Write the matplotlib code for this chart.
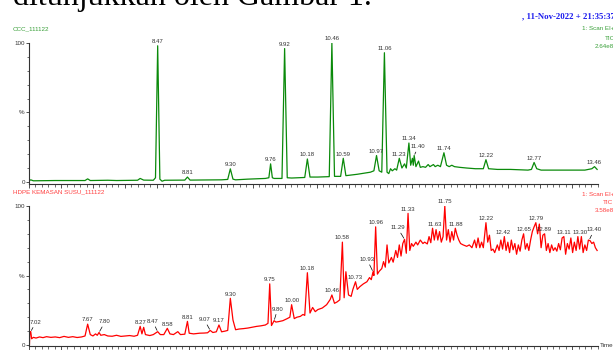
import numpy as np
import matplotlib.pyplot as plt

# Kromatogram TIC: CCC_111122 (atas) dan HDPE KEMASAN SUSU_111122 (bawah)
top_t = [7.00, 7.02, 7.05, 7.30, 7.50, 7.64, 7.67, 7.70, 7.90, 8.00, 8.24, 8.27, 8.31,
         8.42, 8.445, 8.47, 8.495, 8.52, 8.55, 8.78, 8.81, 8.84, 9.00, 9.20, 9.27, 9.30,
         9.33, 9.36, 9.50, 9.70, 9.74, 9.76, 9.78, 9.80, 9.89, 9.92, 9.95, 10.00, 10.15,
         10.18, 10.21, 10.30, 10.43, 10.46, 10.49, 10.56, 10.59, 10.62, 10.75, 10.90,
         10.94, 10.97, 11.00, 11.03, 11.06, 11.09, 11.11, 11.13, 11.15, 11.18, 11.20,
         11.23, 11.26, 11.29, 11.31, 11.34, 11.36, 11.38, 11.39, 11.40, 11.42, 11.45,
         11.47, 11.50, 11.53, 11.56, 11.58, 11.62, 11.64, 11.67, 11.70, 11.74, 11.77,
         11.80, 11.83, 11.86, 11.92, 12.00, 12.10, 12.19, 12.22, 12.25, 12.35, 12.50,
         12.70, 12.74, 12.77, 12.80, 12.85, 13.00, 13.20, 13.35, 13.43, 13.46, 13.49]
top_v = [0.8, 1.5, 0.8, 1.0, 1.0, 1.0, 2.2, 1.0, 1.2, 1.0, 1.2, 2.5, 1.3,
         1.2, 3.0, 98, 2.0, 0.5, 1.2, 1.3, 3.5, 1.3, 1.4, 1.5, 1.8, 9.4,
         2.0, 1.5, 2.0, 2.5, 3.0, 13, 3.0, 2.5, 2.5, 96, 3.0, 2.8, 3.2,
         16.5, 3.5, 3.5, 3.8, 100, 4.0, 4.0, 17, 4.5, 5.5, 7.0,
         8.0, 19, 8.0, 7.0, 93, 7.0, 6.0, 9.5, 8.0, 9.5, 8.5,
         17, 10, 13, 10, 28, 12, 17, 12, 19, 11, 15,
         10.5, 11, 10.5, 12.5, 11, 12.5, 11, 12, 11, 21, 12,
         11, 12, 11, 10.5, 10, 9.5, 9.5, 16, 9.5, 9.0, 9.0,
         8.5, 9.0, 14, 9.5, 8.5, 8.5, 8.5, 8.5, 9.5, 11, 9.0]

bot_t = [7.00, 7.005, 7.01, 7.02, 7.03, 7.05, 7.08, 7.12, 7.16, 7.20, 7.25, 7.30, 7.35,
         7.40, 7.45, 7.50, 7.55, 7.60, 7.64, 7.67, 7.70, 7.73, 7.76, 7.78, 7.80, 7.82,
         7.86, 7.90, 7.95, 8.00, 8.05, 8.10, 8.15, 8.20, 8.24, 8.27, 8.29, 8.31, 8.33,
         8.38, 8.42, 8.47, 8.50, 8.54, 8.58, 8.61, 8.65, 8.70, 8.73, 8.78, 8.81, 8.83,
         8.88, 8.95, 9.00, 9.04, 9.07, 9.10, 9.14, 9.17, 9.20, 9.24, 9.27, 9.30, 9.33,
         9.36, 9.40, 9.45, 9.50, 9.55, 9.60, 9.65, 9.70, 9.73, 9.75, 9.77, 9.80, 9.82,
         9.85, 9.90, 9.95, 9.98, 10.00, 10.03, 10.06, 10.10, 10.13, 10.15, 10.18, 10.21,
         10.24, 10.27, 10.30, 10.35, 10.40, 10.44, 10.46, 10.49, 10.52, 10.55, 10.58,
         10.60, 10.62, 10.65, 10.68, 10.70, 10.73, 10.75, 10.78, 10.82, 10.86, 10.89,
         10.91, 10.93, 10.94, 10.96, 10.98, 11.00, 11.03, 11.05, 11.07, 11.09, 11.11,
         11.14, 11.16, 11.19, 11.21, 11.23, 11.25, 11.27, 11.29, 11.31, 11.33, 11.35,
         11.37, 11.39, 11.42, 11.44, 11.47, 11.50, 11.52, 11.55, 11.57, 11.59, 11.61,
         11.63, 11.65, 11.67, 11.69, 11.71, 11.73, 11.75, 11.77, 11.79, 11.81, 11.83,
         11.85, 11.87, 11.89, 11.91, 11.93, 11.96, 12.00, 12.03, 12.06, 12.09, 12.11,
         12.13, 12.15, 12.17, 12.19, 12.22, 12.24, 12.26, 12.28, 12.30, 12.32, 12.35,
         12.37, 12.39, 12.41, 12.43, 12.45, 12.47, 12.49, 12.51, 12.53, 12.55, 12.57,
         12.59, 12.61, 12.63, 12.65, 12.67, 12.69, 12.71, 12.73, 12.75, 12.77, 12.79,
         12.81, 12.83, 12.85, 12.87, 12.89, 12.91, 12.93, 12.95, 12.97, 12.99, 13.01,
         13.03, 13.05, 13.07, 13.09, 13.11, 13.13, 13.15, 13.17, 13.19, 13.21, 13.23,
         13.25, 13.27, 13.29, 13.31, 13.33, 13.35, 13.37, 13.39, 13.41, 13.43, 13.45,
         13.47, 13.49]
bot_v = [0, 0, 9.6, 9.6, 4.5, 5.5, 5.0, 5.8, 5.3, 6.0, 5.5, 5.8, 5.3,
         6.2, 5.5, 6.0, 5.4, 5.8, 6.5, 15, 7.5, 6.5, 8.0, 7.0, 9.0, 7.0,
         7.5, 6.5, 6.3, 7.0, 6.2, 6.5, 6.8, 6.3, 7.0, 13.4, 8.0, 12.7, 7.5,
         6.8, 7.5, 9.6, 7.5, 7.5, 12, 8.0, 7.5, 9.6, 7.5, 7.8, 17, 8.5,
         8.0, 8.5, 8.6, 8.8, 10.5, 9.0, 9.5, 14.4, 9.5, 10, 10.5, 33.6, 18,
         11, 11.5, 11.8, 12.2, 12.8, 13.4, 13.8, 14.4, 15.6, 44, 14, 17.5, 16.5,
         16.8, 17.5, 19, 20, 29, 19, 20, 20.6, 22, 21.3, 52, 23,
         27, 24, 25.5, 26.6, 29, 32.7, 36, 30, 31, 32.5, 74,
         34, 52.7, 36, 35, 40, 45.5, 40, 42, 44, 45.5, 48.5,
         47, 52.7, 50, 85, 51, 53, 55, 60, 56, 72, 59,
         63, 59.6, 68, 63, 72, 64, 73, 76, 66, 94.7, 68,
         73, 71, 74, 72, 75.5, 73, 74, 72.7, 78, 73.6, 84,
         75.5, 83, 75.5, 81.6, 74, 78, 100, 75.5, 83, 74, 81.6,
         75.5, 84, 79, 75.5, 73, 72, 71, 72, 70, 75.5, 70,
         77, 70, 74, 70, 88, 74, 79, 68, 69, 66.5, 72,
         68, 75.5, 69, 78, 68, 74, 66.5, 75.5, 68.5, 73, 65.3,
         72, 67.5, 75.5, 80, 69, 73, 68, 75.5, 81.6, 85, 88,
         80, 87, 70, 79, 80, 68, 73, 66.5, 72, 68, 70,
         67.5, 73, 68.5, 77, 78, 65.3, 73, 69, 77, 66.5, 74,
         68, 78, 69, 78, 66.5, 72, 68, 75.5, 75, 73, 74,
         70, 68]

top_labels = ['8.47', '8.81', '9.30', '9.76', '9.92', '10.18', '10.46', '10.59', '10.97',
              '11.06', '11.23', '11.34', '11.40', '11.74', '12.22', '12.77', '13.46']
bot_labels = ['7.02', '7.67', '7.80', '8.27', '8.47', '8.58', '8.81', '9.07', '9.17', '9.30',
              '9.75', '9.80', '10.00', '10.18', '10.46', '10.58', '10.73', '10.93', '10.96',
              '11.29', '11.33', '11.63', '11.75', '11.88', '12.22', '12.42', '12.65', '12.79',
              '12.89', '13.11', '13.30', '13.40']

# label yang memakai garis penunjuk (offset dalam point)
top_leaders = {'11.40': (3, 4.5)}
bot_leaders = {'7.02': (3.6, 5), '7.80': (4.3, 6), '8.47': (-3.6, 5.5), '9.07': (-4.3, 6),
               '9.80': (2.5, 6.5), '10.93': (-4.3, 7), '11.29': (-5, 6.5), '13.40': (3.4, 5.5)}

W, H = 613, 350
SANS = 'Liberation Sans'
SERIF = 'Liberation Serif'
GREY = '#333333'


def fx(x):
    return x / W


def fy(y):
    return 1 - y / H


def style_axis(ax, ymin):
    ax.set_xlim(7.0, 13.5)
    ax.set_ylim(ymin, 100)
    ax.patch.set_alpha(0)
    for s in ['top', 'right']:
        ax.spines[s].set_visible(False)
    for s in ['left', 'bottom']:
        ax.spines[s].set_color(GREY)
        ax.spines[s].set_linewidth(0.8)
    ax.set_yticks([0, 50, 100], ['0', '%', '100'])
    ax.set_yticks(np.arange(0, 101, 10), minor=True)
    ax.set_xticks(np.arange(7.0, 13.5, 0.365), [])
    ax.set_xticks(np.arange(7.0, 13.5, 0.073), minor=True)
    ax.tick_params(axis='y', which='major', length=2.5, width=0.6, pad=0.5,
                   labelsize=4.5, colors=GREY)
    ax.tick_params(axis='y', which='minor', length=1.5, width=0.5, colors=GREY)
    ax.tick_params(axis='x', which='major', length=3, width=0.6, colors=GREY)
    ax.tick_params(axis='x', which='minor', length=1.8, width=0.5, colors=GREY)
    for lab in ax.get_yticklabels():
        lab.set_family(SANS)


def label_peaks(ax, t, v, labels, leaders):
    t = np.array(t)
    v = np.array(v)
    for lab in labels:
        pt = float(lab)
        near = np.abs(t - pt) <= 0.0201
        top = v[near].max()
        if lab in leaders:
            dx, dy = leaders[lab]
            ax.annotate(lab, xy=(pt, top), xytext=(dx, dy), textcoords='offset points',
                        ha='center', va='bottom', fontsize=4.3, family=SANS, color=GREY,
                        arrowprops=dict(arrowstyle='-', color='black', lw=0.5,
                                        shrinkA=0, shrinkB=1))
        else:
            ax.annotate(lab, xy=(pt, top), xytext=(0, 1.2), textcoords='offset points',
                        ha='center', va='bottom', fontsize=4.3, family=SANS, color=GREY)


fig = plt.figure(figsize=(6.13, 3.5), dpi=100)

ax_top = fig.add_axes([fx(29), fy(184), fx(598) - fx(29), (184 - 43) / H])
ax_bot = fig.add_axes([fx(29), fy(346.4), fx(598) - fx(29), (346.4 - 206) / H])

style_axis(ax_top, -1.5)
style_axis(ax_bot, -1.0)

ax_top.plot(top_t, top_v, color='#0a8a0a', lw=0.9)
ax_bot.plot(bot_t, bot_v, color='#ff0000', lw=0.9)

label_peaks(ax_top, top_t, top_v, top_labels, top_leaders)
label_peaks(ax_bot, bot_t, bot_v, bot_labels, bot_leaders)

# teks di luar grafik
fig.text(fx(13), fy(5), 'ditunjukkan oleh Gambar 1.', fontsize=23, family=SERIF,
         va='baseline', ha='left', color='black')
fig.text(fx(522), fy(16), ', 11-Nov-2022 + 21:35:37', fontsize=6.3, family=SERIF,
         weight='bold', color='#1a1aee', va='center', ha='left')

fig.text(fx(13), fy(29), 'CCC_111122', fontsize=4.5, family=SANS, color='#3aa03a', va='center')
fig.text(fx(582), fy(29), '1: Scan EI+', fontsize=4.5, family=SANS, color='#3aa03a', va='center')
fig.text(fx(605), fy(38), 'TIC', fontsize=4.5, family=SANS, color='#3aa03a', va='center')
fig.text(fx(595), fy(47), '2.64e8', fontsize=4.5, family=SANS, color='#3aa03a', va='center')

fig.text(fx(13), fy(192), 'HDPE KEMASAN SUSU_111122', fontsize=4.5, family=SANS,
         color='#ff4040', va='center')
fig.text(fx(582), fy(194), '1: Scan EI+', fontsize=4.5, family=SANS, color='#ff4040', va='center')
fig.text(fx(603), fy(203), 'TIC', fontsize=4.5, family=SANS, color='#ff4040', va='center')
fig.text(fx(595), fy(211), '3.58e8', fontsize=4.5, family=SANS, color='#ff4040', va='center')
fig.text(fx(600), fy(345.5), 'Time', fontsize=4.5, family=SANS, color=GREY, va='center')

fig.savefig('out.png', dpi=100)
